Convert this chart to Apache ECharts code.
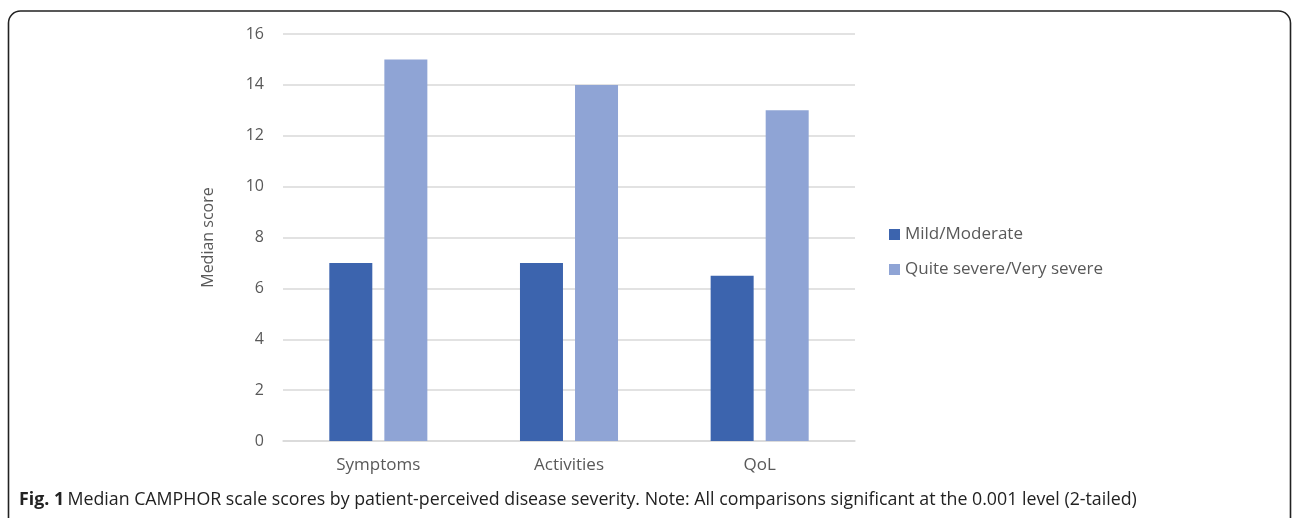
<!DOCTYPE html>
<html>
<head>
<meta charset="utf-8">
<script src="https://cdn.jsdelivr.net/npm/echarts@6/dist/echarts.min.js"></script>
<style>
  html, body { margin: 0; padding: 0; background: #fff; }
  #chart { width: 1292px; height: 518px; }
</style>
</head>
<body>
<div id="chart"></div>
<script>
// Median CAMPHOR scale scores by perceived severity
const categories = ['Symptoms', 'Activities', 'QoL'];
const mildModerate = [7, 7, 6.5];
const quiteVerySevere = [15, 14, 13];
const seriesNames = ['Mild/Moderate', 'Quite severe/Very severe'];
const yTicks = { min: 0, max: 16, interval: 2 };

const FONT = '"Open Sans", "Noto Sans", sans-serif';
const TEXT = '#595959';

const chart = echarts.init(document.getElementById('chart'), null, { renderer: 'canvas' });

chart.setOption({
  animation: false,
  backgroundColor: '#fff',
  textStyle: { fontFamily: FONT },
  grid: { left: 283, right: 437, top: 34, bottom: 77, containLabel: false },
  legend: {
    orient: 'vertical',
    left: 884,
    top: 221,
    itemWidth: 11,
    itemHeight: 11,
    itemGap: 18,
    icon: 'rect',
    data: seriesNames,
    textStyle: { color: TEXT, fontSize: 17, fontFamily: FONT, padding: [0, 0, 0, 0] }
  },
  xAxis: {
    type: 'category',
    data: categories,
    axisLine: { lineStyle: { color: '#D9D9D9', width: 1.5 } },
    axisTick: { show: false },
    axisLabel: { color: TEXT, fontSize: 17, margin: 16, fontFamily: FONT }
  },
  yAxis: {
    type: 'value',
    min: yTicks.min,
    max: yTicks.max,
    interval: yTicks.interval,
    name: 'Median score',
    nameLocation: 'middle',
    nameGap: 67,
    nameTextStyle: { color: TEXT, fontSize: 16, fontFamily: FONT },
    axisLine: { show: false },
    axisTick: { show: false },
    axisLabel: { color: TEXT, fontSize: 16, margin: 19, fontFamily: FONT },
    splitLine: { lineStyle: { color: '#D9D9D9', width: 1.5 } }
  },
  series: [
    {
      name: seriesNames[0],
      type: 'bar',
      data: mildModerate,
      barWidth: 43,
      barGap: '28%',
      itemStyle: { color: '#3C64AE' }
    },
    {
      name: seriesNames[1],
      type: 'bar',
      data: quiteVerySevere,
      barWidth: 43,
      itemStyle: { color: '#8FA4D5' }
    }
  ],
  graphic: [
    {
      type: 'rect',
      shape: { x: 8.5, y: 11, width: 1282, height: 620, r: 12 },
      style: { fill: 'none', stroke: '#222', lineWidth: 1.6 },
      silent: true
    },
    {
      type: 'text',
      left: 19,
      top: 491,
      style: {
        rich: {
          b: { fontWeight: 'bold', fontSize: 17.8, fill: '#222', fontFamily: FONT },
          n: { fontSize: 17.8, fill: '#222', fontFamily: FONT }
        },
        text: '{b|Fig. 1} {n|Median CAMPHOR scale scores by patient-perceived disease severity. Note: All comparisons significant at the 0.001 level (2-tailed)}'
      }
    }
  ]
});
</script>
</body>
</html>
